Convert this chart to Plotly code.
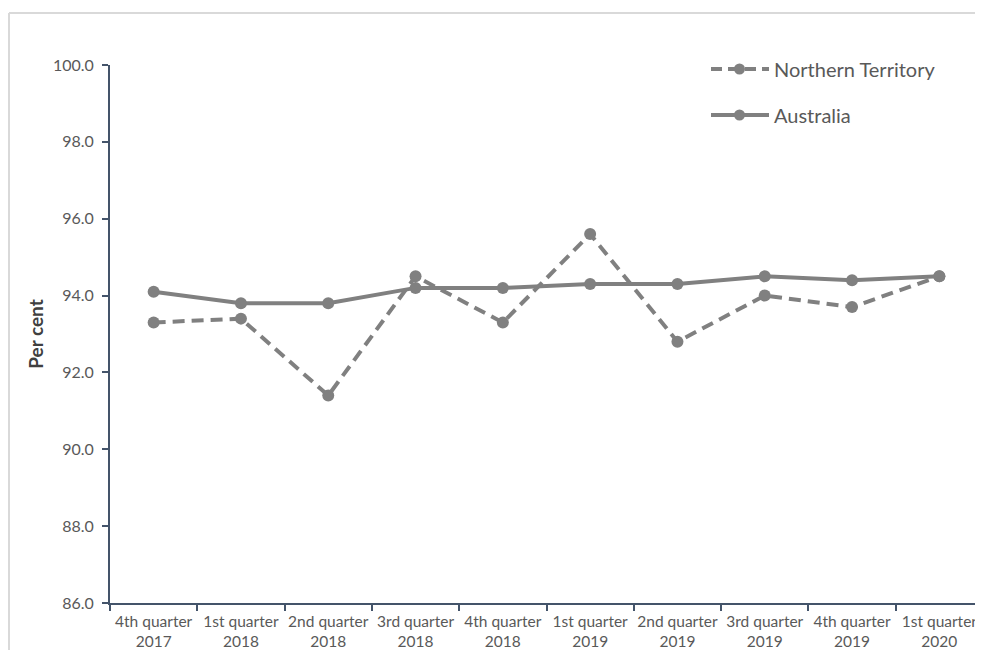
import plotly.graph_objects as go

categories = ["4th quarter<br>2017", "1st quarter<br>2018", "2nd quarter<br>2018", "3rd quarter<br>2018",
              "4th quarter<br>2018", "1st quarter<br>2019", "2nd quarter<br>2019", "3rd quarter<br>2019",
              "4th quarter<br>2019", "1st quarter<br>2020"]
northern_territory = [93.3, 93.4, 91.4, 94.5, 93.3, 95.6, 92.8, 94.0, 93.7, 94.5]
australia = [94.1, 93.8, 93.8, 94.2, 94.2, 94.3, 94.3, 94.5, 94.4, 94.5]
y_ticks = [86, 88, 90, 92, 94, 96, 98, 100]
y_ticklabels = [f"{v:.1f}" for v in y_ticks]

GREY = "#808080"
AXIS = "#44546a"
TXT = "#595959"
FONT = "Lato"

OFF = 8  # page body margin
W, H = 983 - OFF, 650 - OFF
# screen-pixel plot area
SL, ST, SR, SB = 110, 65, 983, 603
L, T = SL - OFF, ST - OFF
R, B = 0, H - (SB - OFF)
pw, ph = W - L - R, H - T - B

def px_x(x):
    return (x - SL) / pw

def px_y(y):
    return (SB - y) / ph

fig = go.Figure()
fig.add_trace(go.Scatter(x=categories, y=northern_territory, mode="lines+markers", name="Northern Territory",
                         line=dict(color=GREY, width=4, dash="12px,7px"),
                         marker=dict(color=GREY, size=12), showlegend=False))
fig.add_trace(go.Scatter(x=categories, y=australia, mode="lines+markers", name="Australia",
                         line=dict(color=GREY, width=4),
                         marker=dict(color=GREY, size=12), showlegend=False))

shapes = []
# outer frame (top and left lines)
shapes.append(dict(type="line", xref="paper", yref="paper", x0=px_x(9), x1=px_x(1000), y0=px_y(13), y1=px_y(13),
                   line=dict(color="#d9d9d9", width=2)))
shapes.append(dict(type="line", xref="paper", yref="paper", x0=px_x(9), x1=px_x(9), y0=px_y(13), y1=px_y(670),
                   line=dict(color="#d9d9d9", width=2)))

# custom legend
legend_items = [("Northern Territory", "dash", 69), ("Australia", "solid", 115)]
annotations = []
for name, dash, yy in legend_items:
    shapes.append(dict(type="line", xref="paper", yref="paper", x0=px_x(711), x1=px_x(769), y0=px_y(yy), y1=px_y(yy),
                       line=dict(color=GREY, width=4, dash="11px,6px" if dash == "dash" else "solid")))
    shapes.append(dict(type="circle", xref="paper", yref="paper", x0=px_x(734), x1=px_x(745), y0=px_y(yy - 5.5), y1=px_y(yy + 5.5),
                       fillcolor=GREY, line=dict(color=GREY, width=0)))
    annotations.append(dict(xref="paper", yref="paper", x=px_x(772), y=px_y(yy), text=name, showarrow=False,
                            xanchor="left", yanchor="middle", font=dict(family=FONT, size=20, color=TXT)))

fig.update_layout(
    width=W, height=H,
    margin=dict(l=L, r=R, t=T, b=B),
    paper_bgcolor="white", plot_bgcolor="white",
    shapes=shapes, annotations=annotations,
    font=dict(family=FONT, color=TXT),
    showlegend=False,
)
fig.update_xaxes(type="category", tickson="boundaries", ticks="outside", ticklen=6, tickcolor=AXIS, tickwidth=2,
                 showline=True, linecolor=AXIS, linewidth=2, showgrid=False, zeroline=False,
                 tickangle=0, automargin=False, ticklabelstandoff=3,
                 tickfont=dict(family=FONT, size=15.5, color=TXT), range=[-0.5, 9.5])
fig.update_yaxes(range=[86, 100], tickvals=y_ticks, ticktext=y_ticklabels, ticks="outside", ticklen=6,
                 tickcolor=AXIS, tickwidth=2, showline=True, linecolor=AXIS, linewidth=2, showgrid=False,
                 zeroline=False, tickfont=dict(family=FONT, size=16, color=TXT), ticklabelstandoff=5,
                 automargin=False,
                 title=dict(text="<b>Per cent</b>", font=dict(family=FONT, size=19, color="#404040"), standoff=4))

fig.write_html("out.html")
